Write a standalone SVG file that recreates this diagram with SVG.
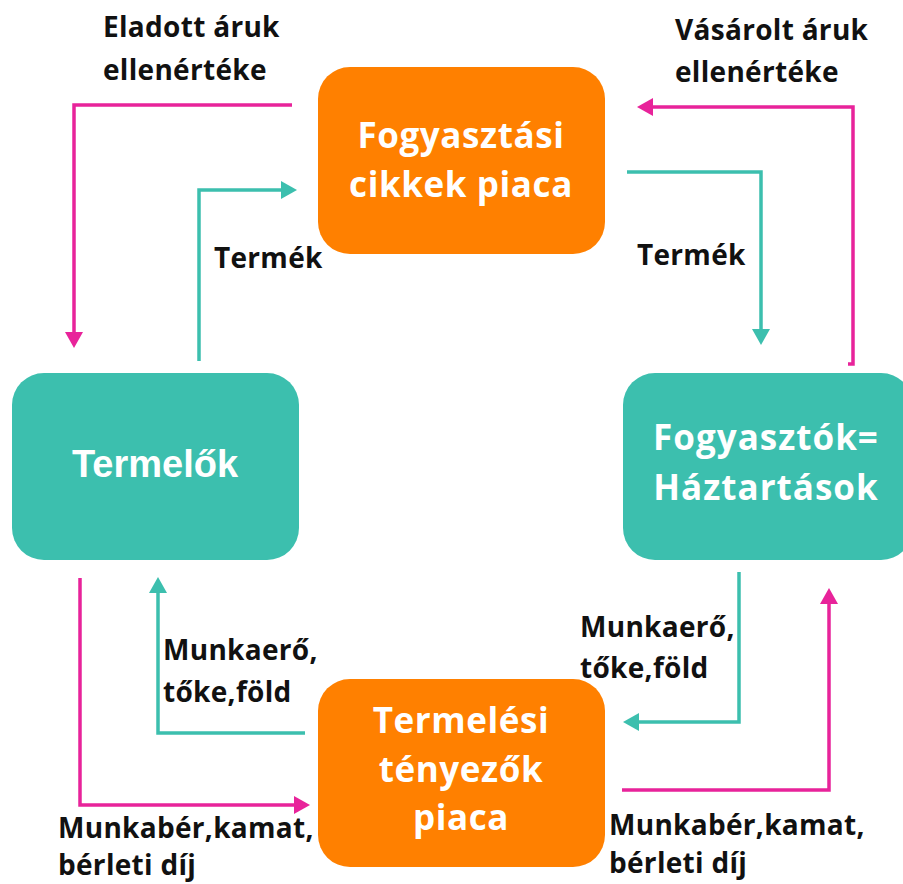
<svg xmlns="http://www.w3.org/2000/svg" width="903" height="884" viewBox="0 0 903 884">
<style>
.orange{fill:#FF8000}
.teal{fill:#3CBFAE}
.bt{font-family:"Open Sans","Liberation Sans",sans-serif;font-weight:bold;fill:#fff;text-anchor:middle;font-size:35px;letter-spacing:0.6px}
.bt2{font-family:"Liberation Sans",Arial,sans-serif;font-weight:bold;fill:#fff;text-anchor:middle}
.lbl{font-family:"Open Sans","Liberation Sans",sans-serif;font-weight:bold;fill:#111;font-size:28px;letter-spacing:0.3px}
.pk{fill:none;stroke:#E8239A;stroke-width:3.5}
.tl{fill:none;stroke:#3CBFAE;stroke-width:3.5}
</style>
<defs>
<marker id="apk" markerUnits="userSpaceOnUse" markerWidth="18" markerHeight="18" viewBox="0 0 16 18" refX="4" refY="9" orient="auto">
<path d="M0,0 L16,9 L0,18 z" fill="#E8239A"/>
</marker>
<marker id="atl" markerUnits="userSpaceOnUse" markerWidth="18" markerHeight="18" viewBox="0 0 16 18" refX="4" refY="9" orient="auto">
<path d="M0,0 L16,9 L0,18 z" fill="#3CBFAE"/>
</marker>
</defs>
<g id="connectors">
<path class="pk" d="M292,105 H74 V336" marker-end="url(#apk)"/>
<path class="tl" d="M199,361 V190 H285" marker-end="url(#atl)"/>
<path class="pk" d="M848,364 H853 V107 H649" marker-end="url(#apk)"/>
<path class="tl" d="M627,172 H761 V333" marker-end="url(#atl)"/>
<path class="pk" d="M80,578 V805 H298" marker-end="url(#apk)"/>
<path class="tl" d="M305,733 H158 V589" marker-end="url(#atl)"/>
<path class="tl" d="M739,572 V722 H635" marker-end="url(#atl)"/>
<path class="pk" d="M622,790 H829 V600" marker-end="url(#apk)"/>
</g>
<g id="node-fogyasztasi">
<rect class="orange" x="318" y="67" width="287" height="187" rx="32"/>
<text class="bt" x="461" y="148">Fogyasztási</text>
<text class="bt" x="461" y="197">cikkek piaca</text>
</g>
<g id="node-termelok">
<rect class="teal" x="12" y="373" width="287" height="187" rx="32"/>
<text class="bt2" font-size="38" x="155" y="477">Termelők</text>
</g>
<g id="node-fogyasztok">
<rect class="teal" x="623" y="373" width="290" height="187" rx="32"/>
<text class="bt" x="766" y="450" style="letter-spacing:1px">Fogyasztók=</text>
<text class="bt" x="766" y="500" style="letter-spacing:1px">Háztartások</text>
</g>
<g id="node-termelesi">
<rect class="orange" x="318" y="679" width="287" height="188" rx="32"/>
<text class="bt" x="461" y="733">Termelési</text>
<text class="bt" x="461" y="782">tényezők</text>
<text class="bt" x="461" y="830">piaca</text>
</g>
<g id="labels">
<text class="lbl" x="103" y="37">Eladott áruk</text>
<text class="lbl" x="103" y="80">ellenértéke</text>
<text class="lbl" x="675" y="40">Vásárolt áruk</text>
<text class="lbl" x="675" y="82">ellenértéke</text>
<text class="lbl" x="214" y="268">Termék</text>
<text class="lbl" x="637" y="265">Termék</text>
<text class="lbl" x="163" y="660">Munkaerő,</text>
<text class="lbl" x="163" y="702">tőke,föld</text>
<text class="lbl" x="580" y="637">Munkaerő,</text>
<text class="lbl" x="580" y="678">tőke,föld</text>
<text class="lbl" x="58" y="838">Munkabér,kamat,</text>
<text class="lbl" x="58" y="875">bérleti díj</text>
<text class="lbl" x="609" y="835">Munkabér,kamat,</text>
<text class="lbl" x="609" y="873">bérleti díj</text>
</g>
</svg>
